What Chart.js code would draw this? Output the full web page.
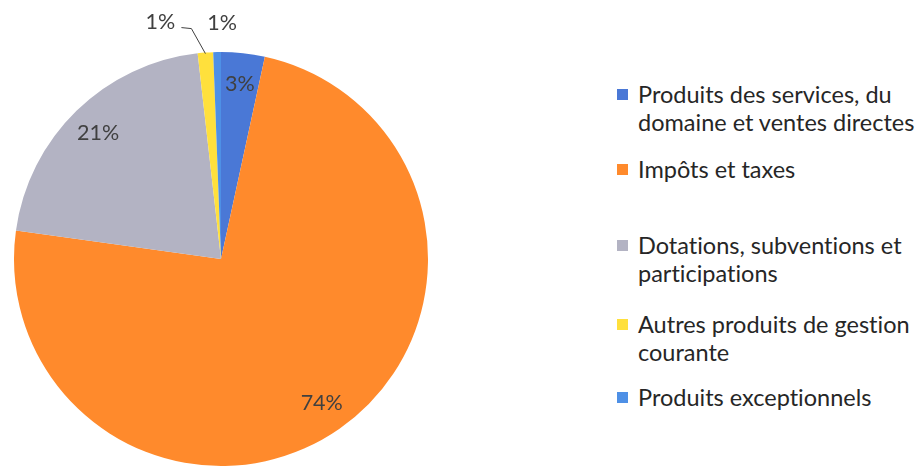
<!DOCTYPE html>
<html>
<head>
<meta charset="utf-8">
<script src="https://cdn.jsdelivr.net/npm/chart.js@4.4.1/dist/chart.umd.min.js"></script>
<style>
  body { margin: 0; background: #fff; width: 920px; height: 468px; overflow: hidden; position: relative; font-family: Lato, "Open Sans", sans-serif; }
  #wrap { position: absolute; left: 0; top: 0; width: 442px; height: 468px; }
  #legend { position: absolute; left: 0; top: 0; }
  .item { position: absolute; left: 617px; font-size: 23.5px; line-height: 27.5px; color: #262626; white-space: nowrap; font-variant-ligatures: none; }
  .item .box { position: absolute; left: 0; top: 8px; width: 11px; height: 11px; }
  .item .txt { position: absolute; left: 21px; top: 0; }
</style>
</head>
<body>
<div id="wrap"><canvas id="pie"></canvas></div>
<div id="legend"></div>
<script>
const labels = [
  ['Produits des services, du', 'domaine et ventes directes'],
  ['Impôts et taxes'],
  ['Dotations, subventions et', 'participations'],
  ['Autres produits de gestion', 'courante'],
  ['Produits exceptionnels']
];
const values = [3.4, 73.8, 21.0, 1.2, 0.6];
const pctLabels = ['3%', '74%', '21%', '1%', '1%'];
const colors = ['#4A78D6', '#FF8A2C', '#B3B3C3', '#FFE03C', '#4E90E6'];

// legend first-line centres (layout only)
const legendTops = [95, 170, 246, 325, 398];

const legend = document.getElementById('legend');
labels.forEach((lines, i) => {
  const item = document.createElement('div');
  item.className = 'item';
  item.style.top = (legendTops[i] - 14) + 'px';
  const box = document.createElement('div');
  box.className = 'box';
  box.style.background = colors[i];
  const txt = document.createElement('div');
  txt.className = 'txt';
  txt.innerHTML = lines.join('<br>');
  item.appendChild(box);
  item.appendChild(txt);
  legend.appendChild(item);
});

// percentage labels drawn from the arc geometry
const pctPlugin = {
  id: 'pct',
  afterDatasetsDraw(chart) {
    const ctx = chart.ctx;
    const arcs = chart.getDatasetMeta(0).data;
    ctx.save();
    ctx.font = '21.5px Lato, "Open Sans", sans-serif';
    ctx.fillStyle = '#404040';
    ctx.textAlign = 'center';
    ctx.textBaseline = 'middle';
    arcs.forEach((arc, i) => {
      const p = arc.getProps(['x', 'y', 'startAngle', 'endAngle', 'outerRadius']);
      const mid = (p.startAngle + p.endAngle) / 2;
      if (values[i] >= 2) {
        const r = p.outerRadius * 0.85;
        ctx.fillText(pctLabels[i], p.x + Math.cos(mid) * r, p.y + Math.sin(mid) * r);
      } else {
        const ox = p.x + Math.cos(mid) * p.outerRadius;
        const oy = p.y + Math.sin(mid) * p.outerRadius;
        if (i === 3) {
          ctx.strokeStyle = '#404040';
          ctx.lineWidth = 1;
          ctx.beginPath();
          ctx.moveTo(ox, oy + 1);
          ctx.lineTo(ox - 14, oy - 24);
          ctx.lineTo(ox - 24, oy - 25);
          ctx.stroke();
          ctx.fillText(pctLabels[i], ox - 45, oy - 31);
        } else {
          ctx.fillText(pctLabels[i], ox + 5, oy - 29);
        }
      }
    });
    ctx.restore();
  }
};

new Chart(document.getElementById('pie'), {
  type: 'pie',
  data: {
    labels: labels.map(l => l.join(' ')),
    datasets: [{
      data: values,
      backgroundColor: colors,
      borderWidth: 0
    }]
  },
  options: {
    responsive: true,
    maintainAspectRatio: false,
    animation: false,
    layout: { padding: { top: 52, bottom: 2, left: 14, right: 14 } },
    plugins: {
      legend: { display: false },
      tooltip: { enabled: false }
    }
  },
  plugins: [pctPlugin]
});
</script>
</body>
</html>
